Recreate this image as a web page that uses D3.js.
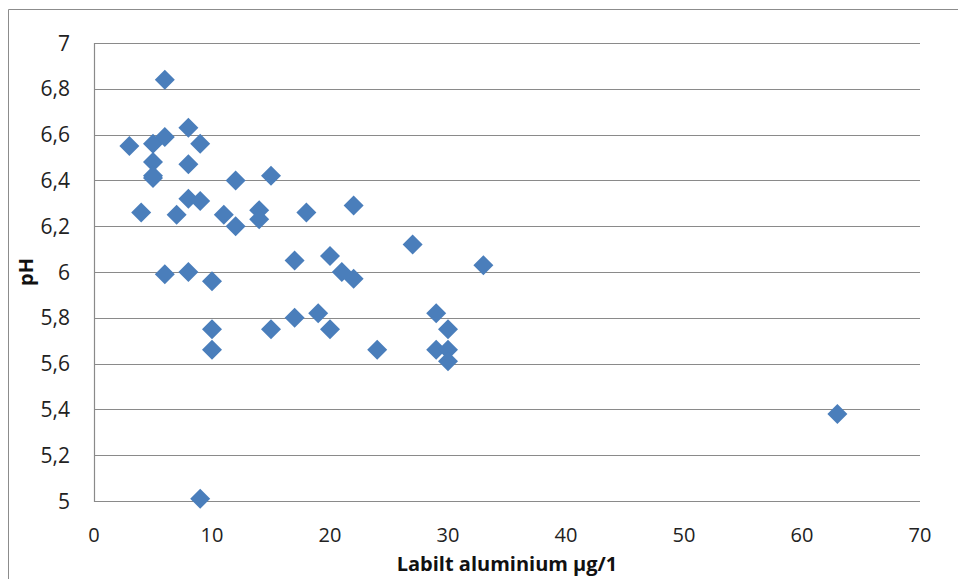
<!DOCTYPE html>
<html>
<head>
<meta charset="utf-8">
<script src="https://cdn.jsdelivr.net/npm/d3@7"></script>
<style>
  body { margin: 0; background: #fff; }
  svg { display: block; font-family: "Open Sans", "Noto Sans", sans-serif; }
</style>
</head>
<body>
<svg id="chart" width="958" height="579"></svg>
<script>
// Labilt aluminium (µg/l) vs pH
var aluminium = [3, 6, 5, 6, 8, 9, 5, 8, 5, 5, 12, 15,
  4, 7, 8, 9, 11, 12, 14, 14, 18, 22,
  17, 20, 21, 22, 6, 8, 10, 27, 33,
  10, 10, 15, 17, 19, 20, 24, 29, 30, 29, 30, 30,
  63, 9];
var ph = [6.55, 6.84, 6.56, 6.59, 6.63, 6.56, 6.48, 6.47, 6.42, 6.41, 6.40, 6.42,
  6.26, 6.25, 6.32, 6.31, 6.25, 6.20, 6.27, 6.23, 6.26, 6.29,
  6.05, 6.07, 6.00, 5.97, 5.99, 6.00, 5.96, 6.12, 6.03,
  5.75, 5.66, 5.75, 5.80, 5.82, 5.75, 5.66, 5.82, 5.75, 5.66, 5.66, 5.61,
  5.38, 5.01];

var xTicks = [0, 10, 20, 30, 40, 50, 60, 70];
var yTicks = [5, 5.2, 5.4, 5.6, 5.8, 6, 6.2, 6.4, 6.6, 6.8, 7];

var svg = d3.select("#chart");
var plotLeft = 94, plotTop = 43, plotRight = 920, plotBottom = 501;

var x = d3.scaleLinear().domain([0, 70]).range([plotLeft, plotRight]);
var y = d3.scaleLinear().domain([5, 7]).range([plotBottom, plotTop]);

// outer chart frame
svg.append("path")
  .attr("d", "M8.5,579 V9.5 H958")
  .attr("fill", "none")
  .attr("stroke", "#8c8c8c")
  .attr("stroke-width", 1);

// horizontal gridlines
svg.append("g")
  .selectAll("line")
  .data(yTicks)
  .join("line")
  .attr("x1", plotLeft)
  .attr("x2", plotRight)
  .attr("y1", d => Math.round(y(d)) + 0.5)
  .attr("y2", d => Math.round(y(d)) + 0.5)
  .attr("stroke", "#8a8a8a")
  .attr("stroke-width", 1.2);

// y axis line
svg.append("line")
  .attr("x1", plotLeft + 0.5).attr("x2", plotLeft + 0.5)
  .attr("y1", plotTop).attr("y2", plotBottom + 1)
  .attr("stroke", "#8a8a8a")
  .attr("stroke-width", 1.2);

var fmt = d => String(+d.toFixed(1)).replace(".", ",");

svg.append("g")
  .selectAll("text")
  .data(yTicks)
  .join("text")
  .attr("x", 70)
  .attr("y", d => y(d) + 7.5)
  .attr("text-anchor", "end")
  .attr("font-size", 21)
  .attr("fill", "#222")
  .text(fmt);

svg.append("g")
  .selectAll("text")
  .data(xTicks)
  .join("text")
  .attr("x", d => x(d))
  .attr("y", 542)
  .attr("text-anchor", "middle")
  .attr("font-size", 20)
  .attr("fill", "#222")
  .text(d => d);

// axis titles
svg.append("text")
  .attr("x", 507)
  .attr("y", 571)
  .attr("text-anchor", "middle")
  .attr("font-size", 20)
  .attr("font-weight", "bold")
  .attr("fill", "#111")
  .text("Labilt aluminium µg/1");

svg.append("text")
  .attr("transform", "translate(33," + y(6) + ") rotate(-90)")
  .attr("text-anchor", "middle")
  .attr("font-size", 20)
  .attr("font-weight", "bold")
  .attr("fill", "#111")
  .text("pH");

// diamond markers
var diamond = d3.symbol().type(d3.symbolSquare).size(200);
svg.append("g")
  .selectAll("path")
  .data(aluminium.map((a, i) => [a, ph[i]]))
  .join("path")
  .attr("d", diamond)
  .attr("transform", d => "translate(" + x(d[0]) + "," + y(d[1]) + ") rotate(45)")
  .attr("fill", "#4a7ebb");
</script>
</body>
</html>
